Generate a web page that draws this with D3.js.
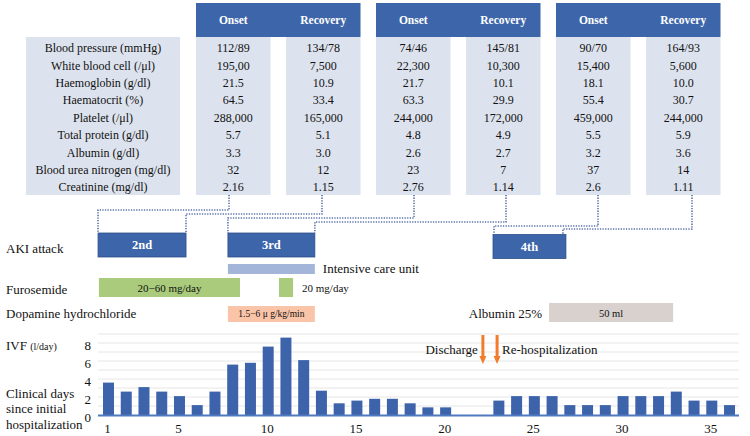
<!DOCTYPE html>
<html>
<head>
<meta charset="utf-8">
<script src="https://cdn.jsdelivr.net/npm/d3@7/dist/d3.min.js"></script>
<style>
  html, body { margin: 0; padding: 0; background: #fff; }
  svg { display: block; }
</style>
</head>
<body>
<svg id="chart" width="750" height="436"></svg>
<script>
// ---------------- DATA ----------------
const rowLabels = ["Blood pressure (mmHg)", "White blood cell (/\u03bcl)", "Haemoglobin (g/dl)",
  "Haematocrit (%)", "Platelet  (/\u03bcl)", "Total protein (g/dl)", "Albumin (g/dl)",
  "Blood urea nitrogen (mg/dl)", "Creatinine (mg/dl)"];
const headerLabels = ["Onset", "Recovery"];
const onset2nd    = ["112/89", "195,00", "21.5", "64.5", "288,000", "5.7", "3.3", "32", "2.16"];
const recovery2nd = ["134/78", "7,500", "10.9", "33.4", "165,000", "5.1", "3.0", "12", "1.15"];
const onset3rd    = ["74/46", "22,300", "21.7", "63.3", "244,000", "4.8", "2.6", "23", "2.76"];
const recovery3rd = ["145/81", "10,300", "10.1", "29.9", "172,000", "4.9", "2.7", "7", "1.14"];
const onset4th    = ["90/70", "15,400", "18.1", "55.4", "459,000", "5.5", "3.2", "37", "2.6"];
const recovery4th = ["164/93", "5,600", "10.0", "30.7", "244,000", "5.9", "3.6", "14", "1.11"];

const days = d3.range(1, 37);
const ivf = [3.6, 2.6, 3.1, 2.6, 2.1, 1.1, 2.6, 5.6, 5.8, 7.6, 8.6, 6.1, 2.7, 1.3, 1.6, 1.8, 1.8, 1.3,
  0.85, 0.85, null, null, 1.6, 2.1, 2.1, 2.1, 1.1, 1.1, 1.1, 2.1, 2.1, 2.1, 2.6, 1.6, 1.6, 1.1];
const xTickDays = [1, 5, 10, 15, 20, 25, 30, 35];
const yTickValues = [0, 2, 4, 6, 8];

// AKI attacks (start day, end day)
const akiLabels = ["2nd", "3rd", "4th"];
const akiStart = [0.41, 7.73, 22.67];
const akiEnd = [5.37, 12.63, 26.78];
// treatments
const icuSpan = [7.73, 12.63];
const furosemideSpans = [[0.46, 8.41], [10.61, 11.40]];
const furosemideDoses = ["20\u221260 mg/day", "20 mg/day"];
const dopamineSpan = [7.73, 12.63];
const dopamineDose = "1.5\u22126 \u03bc g/kg/min";
const albuminSpan = [25.83, 32.82];
const albuminDose = "50 ml";
const eventLabels = ["Discharge", "Re-hospitalization"];
const eventDays = [22.1, 22.9];

// ---------------- CHART ----------------
const FONT = "'Liberation Serif', 'Times New Roman', Tinos, 'DejaVu Serif', serif";
const svg = d3.select("#chart").attr("font-family", FONT).style("font-family", FONT);
const BLUE = "#3d65aa", CELL = "#dde3ee", DOT = "#5b74ab", INK = "#111";

// scales for the day axis
const x = d3.scaleBand().domain(days).range([99.63, 738.4]).paddingInner(0.38).paddingOuter(0.19);
const tl = d3.scaleLinear().domain([1, 36]).range([x(1) + x.bandwidth() / 2, x(36) + x.bandwidth() / 2]);
const y = d3.scaleLinear().domain([0, 9]).range([415, 334]);

function label(sel, tx, ty, str, size, anchor) {
  return sel.append("text").attr("x", tx).attr("y", ty).attr("dy", "0.35em")
    .attr("text-anchor", anchor || "start").attr("font-size", size).attr("fill", INK).text(str);
}

// ---- table ----
const tableTop = 37, tableBottom = 195, rowStart = 39.3, rowH = 17.4;
const groupX = [196, 376, 556];
const colW = 74.5, recOff = 90;
const groupData = [[onset2nd, recovery2nd], [onset3rd, recovery3rd], [onset4th, recovery4th]];

svg.append("rect").attr("x", 26).attr("y", tableTop).attr("width", 154)
  .attr("height", tableBottom - tableTop).attr("fill", CELL);
svg.append("g").selectAll("text").data(rowLabels).join("text")
  .attr("x", 103).attr("y", (d, i) => rowStart + rowH * (i + 0.5)).attr("dy", "0.35em")
  .attr("text-anchor", "middle").attr("font-size", 12).attr("fill", INK).text(d => d);

groupData.forEach((g, gi) => {
  const gx = groupX[gi];
  const G = svg.append("g");
  G.append("rect").attr("x", gx).attr("y", 3).attr("width", recOff + colW).attr("height", tableTop - 3)
    .attr("fill", BLUE);
  g.forEach((col, ci) => {
    const cx = gx + ci * recOff;
    const C = G.append("g");
    C.append("rect").attr("x", cx).attr("y", tableTop).attr("width", colW)
      .attr("height", tableBottom - tableTop).attr("fill", CELL);
    C.append("text").attr("x", cx + colW / 2).attr("y", 20).attr("dy", "0.35em")
      .attr("text-anchor", "middle").attr("font-size", 11.5).attr("font-weight", "bold")
      .attr("fill", "#fff").text(headerLabels[ci]);
    C.selectAll("text.v").data(col).join("text").attr("class", "v")
      .attr("x", cx + colW / 2).attr("y", (d, i) => rowStart + rowH * (i + 0.5)).attr("dy", "0.35em")
      .attr("text-anchor", "middle").attr("font-size", 12).attr("fill", INK).text(d => d);
  });
});

// ---- dotted connectors (table columns -> AKI boxes) ----
const connectors = [
  [[229, 195], [229, 210], [tl(akiStart[0]), 210], [tl(akiStart[0]), 233]],
  [[322, 195], [322, 214], [tl(akiEnd[0]), 214], [tl(akiEnd[0]), 233]],
  [[414, 195], [414, 218], [tl(akiStart[1]), 218], [tl(akiStart[1]), 233]],
  [[506, 195], [506, 222], [tl(akiEnd[1]), 222], [tl(akiEnd[1]), 233]],
  [[598, 195], [598, 226], [tl(akiStart[2]) + 1, 226], [tl(akiStart[2]) + 1, 234]],
  [[692, 195], [692, 229], [tl(akiEnd[2]) - 3, 229], [tl(akiEnd[2]) - 3, 234]]
];
svg.append("g").selectAll("path").data(connectors).join("path")
  .attr("d", d3.line()).attr("fill", "none").attr("stroke", DOT)
  .attr("stroke-width", 1.6).attr("stroke-dasharray", "1.3,1.3");

// ---- AKI boxes ----
label(svg, 6, 248, "AKI attack", 13);
const akiTops = [233, 233, 234.5];
const aki = svg.append("g").selectAll("g").data(akiLabels).join("g");
aki.append("rect").attr("x", (d, i) => tl(akiStart[i])).attr("y", (d, i) => akiTops[i])
  .attr("width", (d, i) => tl(akiEnd[i]) - tl(akiStart[i])).attr("height", 24)
  .attr("fill", BLUE).attr("stroke", "#2f4f8a").attr("stroke-width", 0.8);
aki.append("text").attr("x", (d, i) => (tl(akiStart[i]) + tl(akiEnd[i])) / 2)
  .attr("y", (d, i) => akiTops[i] + 12).attr("dy", "0.35em").attr("text-anchor", "middle")
  .attr("font-size", 12.5).attr("font-weight", "bold").attr("fill", "#fff").text(d => d);

// ---- ICU ----
svg.append("rect").attr("x", tl(icuSpan[0])).attr("y", 264).attr("width", tl(icuSpan[1]) - tl(icuSpan[0]))
  .attr("height", 10).attr("fill", "#a3b5d8");
label(svg, tl(icuSpan[1]) + 8, 268, "Intensive care unit", 13);

// ---- Furosemide ----
label(svg, 6, 289, "Furosemide", 13);
svg.append("g").selectAll("rect").data(furosemideSpans).join("rect")
  .attr("x", d => tl(d[0])).attr("y", 278).attr("width", d => tl(d[1]) - tl(d[0])).attr("height", 19)
  .attr("fill", "#aacb7c");
label(svg, (tl(furosemideSpans[0][0]) + tl(furosemideSpans[0][1])) / 2, 288, furosemideDoses[0], 11, "middle");
label(svg, tl(furosemideSpans[1][1]) + 9, 288, furosemideDoses[1], 11);

// ---- Dopamine ----
label(svg, 6, 313, "Dopamine hydrochloride", 13);
svg.append("rect").attr("x", tl(dopamineSpan[0])).attr("y", 306).attr("width", tl(dopamineSpan[1]) - tl(dopamineSpan[0]))
  .attr("height", 16).attr("fill", "#f9c4a8");
label(svg, (tl(dopamineSpan[0]) + tl(dopamineSpan[1])) / 2, 314, dopamineDose, 9.5, "middle");

// ---- Albumin ----
label(svg, tl(albuminSpan[0]) - 7, 313, "Albumin 25%", 13, "end");
svg.append("rect").attr("x", tl(albuminSpan[0])).attr("y", 303).attr("width", tl(albuminSpan[1]) - tl(albuminSpan[0]))
  .attr("height", 19).attr("fill", "#d8d1ce");
label(svg, (tl(albuminSpan[0]) + tl(albuminSpan[1])) / 2, 313, albuminDose, 10.5, "middle");

// ---- IVF bar chart ----
const ivfLabel = label(svg, 6, 345, "", 13);
ivfLabel.append("tspan").text("IVF ");
ivfLabel.append("tspan").attr("font-size", 10).text("(l/day)");
["Clinical days", "since initial", "hospitalization"].forEach((t, i) => label(svg, 6, 393 + i * 15.5, t, 13));

// gridlines
svg.append("g").selectAll("line").data(d3.range(1, 10)).join("line")
  .attr("x1", 98).attr("x2", 739).attr("y1", d => y(d)).attr("y2", d => y(d))
  .attr("stroke", "#e6e6e6").attr("stroke-width", 1);

// bars
svg.append("g").selectAll("rect").data(days.filter((d, i) => ivf[i] != null)).join("rect")
  .attr("x", d => x(d)).attr("width", x.bandwidth())
  .attr("y", d => y(ivf[d - 1])).attr("height", d => y(0) - y(ivf[d - 1]))
  .attr("fill", "#3d64aa");

// baseline
svg.append("line").attr("x1", 98).attr("x2", 739).attr("y1", y(0) + 0.5).attr("y2", y(0) + 0.5)
  .attr("stroke", "#4f79c0").attr("stroke-width", 2);

// y ticks
svg.append("g").selectAll("text").data(yTickValues).join("text")
  .attr("x", 91).attr("y", d => y(d) + 2).attr("dy", "0.35em").attr("text-anchor", "end")
  .attr("font-size", 13).attr("fill", INK).text(d => d);

// x ticks
svg.append("g").selectAll("text").data(xTickDays).join("text")
  .attr("x", d => x(d) + x.bandwidth() / 2 - 1).attr("y", 428).attr("dy", "0.35em")
  .attr("text-anchor", "middle").attr("font-size", 13).attr("fill", INK).text(d => d);

// discharge / re-hospitalization arrows
const ORANGE = "#f07c2c";
eventDays.forEach((d, i) => {
  const ax = tl(d);
  svg.append("line").attr("x1", ax).attr("x2", ax).attr("y1", 335).attr("y2", 357)
    .attr("stroke", ORANGE).attr("stroke-width", 3);
  svg.append("path").attr("d", `M${ax - 3.5},356 L${ax + 3.5},356 L${ax},364 Z`).attr("fill", ORANGE);
  label(svg, i === 0 ? ax - 5 : ax + 5, 349, eventLabels[i], 13, i === 0 ? "end" : "start");
});
</script>
</body>
</html>
